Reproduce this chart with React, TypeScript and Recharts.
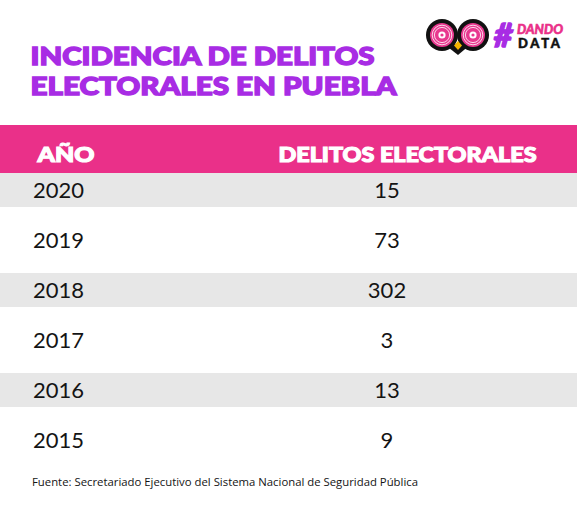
import { Bar, ComposedChart, LabelList, XAxis, YAxis } from 'recharts';

const years = ['2020', '2019', '2018', '2017', '2016', '2015'];
const delitos = [15, 73, 302, 3, 13, 9];
const titleLines = ['INCIDENCIA DE DELITOS', 'ELECTORALES EN PUEBLA'];
const headers = ['AÑO', 'DELITOS ELECTORALES'];
const fuente = 'Fuente: Secretariado Ejecutivo del Sistema Nacional de Seguridad Pública';

const rows = years.map((year, i) => ({ year, count: delitos[i] }));

const PINK = '#ea3089';
const PURPLE = '#a82ce4';
const STRIPE = '#e7e7e7';
const INK = '#141414';

function Stripe(props: any) {
  const { x, y, width, height, index } = props;
  if (index % 2 !== 0) return <g />;
  return <rect x={x} y={y} width={width} height={height} fill={STRIPE} />;
}

function CountLabel(props: any) {
  const vb = props.viewBox ?? props;
  const y = (vb.y ?? props.y) + (vb.height ?? props.height) / 2;
  return (
    <text x={387} y={y} dy="0.36em" textAnchor="middle" fill={INK} fontSize={22} fontFamily="Lato">
      {props.value}
    </text>
  );
}

function Owl() {
  const eye = (cx: number) => (
    <g>
      <circle cx={cx} cy={35} r={12} fill="#e8398f" />
      <circle cx={cx} cy={35} r={9.8} fill="none" stroke="#fff" strokeWidth={0.8} />
      <circle cx={cx} cy={35} r={7.6} fill="none" stroke="#fff" strokeWidth={0.8} />
      <circle cx={cx} cy={35} r={3.6} fill="#fff" />
      <circle cx={cx} cy={35} r={1.6} fill="#e8398f" />
    </g>
  );
  return (
    <g>
      <circle cx={442} cy={35} r={16} fill="#111" />
      <circle cx={473} cy={35} r={16} fill="#111" />
      <path d="M444 44 L458 55 L471 44 Z" fill="#111" />
      {eye(442)}
      {eye(473)}
      <path d="M458 41 L462 45.5 L458 50 L454 45.5 Z" fill="#f4b400" />
      <text x={494} y={47} fontSize={32} fontWeight={900} fontStyle="italic" fontFamily="Lato" fill={PURPLE} stroke={PURPLE} strokeWidth={1.5}>#</text>
      <text x={517} y={33.5} fontSize={14} fontWeight={900} fontStyle="italic" fontFamily="Lato" fill={PINK} stroke={PINK} strokeWidth={0.6} textLength={46} lengthAdjust="spacingAndGlyphs">DANDO</text>
      <text x={518} y={48} fontSize={13} fontWeight={900} fontFamily="Lato" fill="#111" stroke="#111" strokeWidth={0.5} textLength={42} lengthAdjust="spacing">DATA</text>
    </g>
  );
}

const heavy = { fontWeight: 900, fontFamily: 'Lato', lengthAdjust: 'spacingAndGlyphs' } as const;

export default function App() {
  return (
    <div style={{ position: 'relative', width: 577, height: 506, background: '#fff', overflow: 'hidden' }}>
      <style>{'body{margin:0}'}</style>
      <svg width={577} height={506} style={{ position: 'absolute', left: 0, top: 0 }}>
        <text x={30.5} y={64.5} fontSize={25} {...heavy} fill={PURPLE} stroke={PURPLE} strokeWidth={1.4} textLength={344}>{titleLines[0]}</text>
        <text x={30.5} y={94.5} fontSize={25} {...heavy} fill={PURPLE} stroke={PURPLE} strokeWidth={1.4} textLength={366}>{titleLines[1]}</text>
        <Owl />
        <rect x={0} y={125} width={577} height={49} fill={PINK} />
        <text x={37.5} y={161.5} fontSize={20} {...heavy} fill="#fff" stroke="#fff" strokeWidth={1.1} textLength={57}>{headers[0]}</text>
        <text x={278.5} y={161.5} fontSize={20} {...heavy} fill="#fff" stroke="#fff" strokeWidth={1.1} textLength={258}>{headers[1]}</text>
        <text x={32} y={486} fontSize={11} fontFamily="Open Sans" fill={INK} textLength={386} lengthAdjust="spacingAndGlyphs">{fuente}</text>
      </svg>
      <div style={{ position: 'absolute', left: 0, top: 0 }}>
        <ComposedChart width={577} height={506} data={rows} layout="vertical" margin={{ top: 165, right: 0, bottom: 41, left: 0 }}>
          <XAxis type="number" hide />
          <YAxis type="category" dataKey="year" hide />
          <Bar dataKey="count" barSize={34} fill="none" background={Stripe} isAnimationActive={false}>
            <LabelList dataKey="year" position="insideLeft" offset={33} fill={INK} fontSize={22} fontFamily="Lato" />
            <LabelList dataKey="count" content={CountLabel} />
          </Bar>
        </ComposedChart>
      </div>
    </div>
  );
}
